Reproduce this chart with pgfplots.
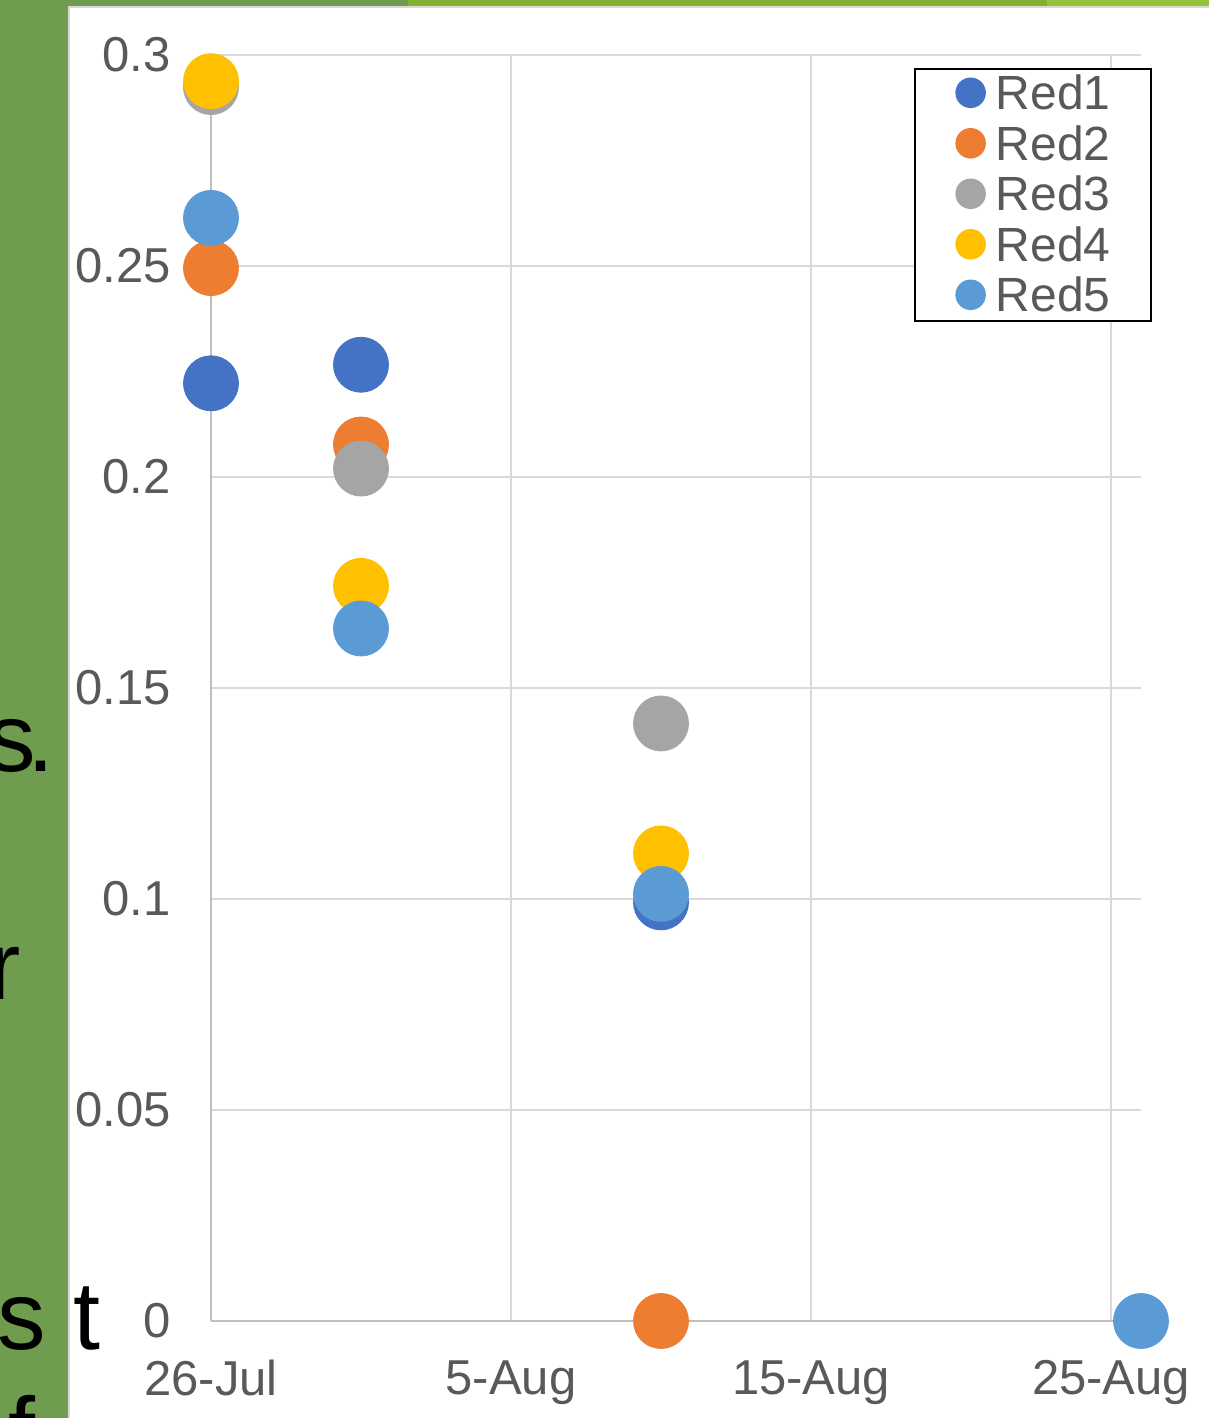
\documentclass[border=0pt]{standalone}
\usepackage{fontspec}
\setmainfont{Liberation Sans}
\usepackage{pgfplots}
\pgfplotsset{compat=1.18}

\definecolor{red1}{HTML}{4472C4}
\definecolor{red2}{HTML}{ED7D31}
\definecolor{red3}{HTML}{A5A5A5}
\definecolor{red4}{HTML}{FFC000}
\definecolor{red5}{HTML}{5B9BD5}
\definecolor{slidegreen}{HTML}{709C4F}
\definecolor{bandmid}{HTML}{83B031}
\definecolor{bandlight}{HTML}{93C23B}
\definecolor{gridgray}{HTML}{D9D9D9}
\definecolor{axisgray}{HTML}{BFBFBF}
\definecolor{labelgray}{HTML}{595959}

\newcommand{\tickfont}{\fontsize{24.5}{29}\selectfont}
\newcommand{\legfont}{\fontsize{24}{29}\selectfont}
\newcommand{\slidefont}{\fontsize{48.5}{58}\selectfont}

\begin{document}
\begin{tikzpicture}
\useasboundingbox (0,0) rectangle (604.5pt,709pt);
\clip (0,0) rectangle (604.5pt,709pt);

% slide background, in screenshot pixels (1px = 0.5pt, y down)
\begin{scope}[x=0.5pt, y=-0.5pt, yshift=709pt]
  \fill[white] (68,6) rectangle (1209,1418);
  \fill[slidegreen] (0,0) rectangle (68,1418);
  \fill[slidegreen] (0,0) rectangle (408,6);
  \fill[bandmid] (408,0) rectangle (1047,6);
  \fill[bandlight] (1047,0) rectangle (1209,6);
  \draw[gridgray, line width=1pt] (69,1418) -- (69,7) -- (1209,7);
  % slide text cut off by the chart
  \node[anchor=base east, inner sep=0pt, font=\slidefont] at (36,772) {s};
  \node[anchor=base west, inner sep=0pt, font=\slidefont] at (27,772) {.};
  \node[anchor=base east, inner sep=0pt, font=\slidefont] at (21,1000) {r};
  \node[anchor=base east, inner sep=0pt, font=\slidefont] at (46,1350) {s};
  \node[anchor=base west, inner sep=0pt, font=\slidefont] at (73,1350) {t};
  \node[anchor=base west, inner sep=0pt, font=\slidefont] at (8,1465) {f};
\end{scope}

\begin{axis}[
    at={(105.5pt,48.5pt)}, anchor=south west,
    scale only axis, width=465pt, height=633pt,
    xmin=0, xmax=31, ymin=0, ymax=0.3,
    axis x line*=bottom, axis y line*=left,
    axis line style={draw=axisgray, line width=1pt},
    xmajorgrids, ymajorgrids,
    major grid style={draw=gridgray, line width=1pt},
    major tick length=0pt,
    xtick={0,10,20,30}, xticklabels={26-Jul,5-Aug,15-Aug,25-Aug},
    ytick={0,0.05,0.1,0.15,0.2,0.25,0.3},
    yticklabels={0,0.05,0.1,0.15,0.2,0.25,0.3},
    ticklabel style={font=\tickfont, text=labelgray, inner sep=0pt},
    xticklabel style={anchor=north, yshift=-19.5pt},
    yticklabel style={anchor=east, xshift=-20pt},
    clip=false,
    every axis plot/.append style={only marks, mark=*, mark size=13.75pt, mark options={draw=none}},
    legend cell align=left,
    legend image code/.code={\fill[#1] (0pt,0.5pt) circle (7.25pt);},
    legend style={at={(1.0118,0.9897)}, anchor=north east,
        draw=black, line width=0.75pt, fill=white, font=\legfont,
        inner xsep=20.3pt, inner ysep=3pt, row sep=6.25pt, column sep=5pt,
        nodes={inner sep=0pt, text=labelgray, text height=17.5pt, text depth=1.5pt}},
]
% x = days after 26-Jul
\addplot[red1] coordinates {(0,0.2222) (5,0.2266) (15,0.0992)};
\addplot[red2] coordinates {(0,0.2495) (5,0.2077) (15,0)};
\addplot[red3] coordinates {(0,0.2924) (5,0.2020) (15,0.1416)};
\addplot[red4] coordinates {(0,0.2938) (5,0.1742) (15,0.1108)};
\addplot[red5] coordinates {(0,0.2614) (5,0.1641) (15,0.1012) (31,0)};
\legend{Red1,Red2,Red3,Red4,Red5}
\end{axis}
\end{tikzpicture}
\end{document}
